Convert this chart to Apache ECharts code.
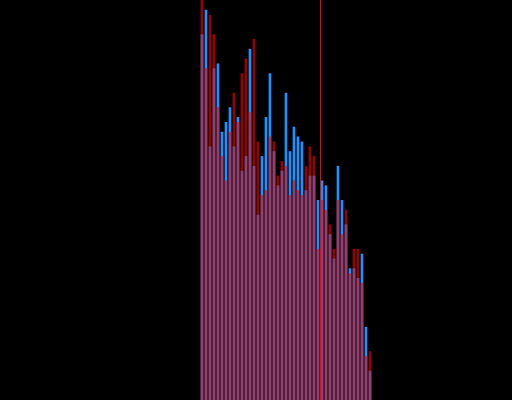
<!DOCTYPE html>
<html>
<head>
<meta charset="utf-8">
<script src="https://cdn.jsdelivr.net/npm/echarts@6/dist/echarts.min.js"></script>
<style>
html,body{margin:0;padding:0;background:#000;}
#chart{width:512px;height:400px;}
</style>
</head>
<body>
<div id="chart"></div>
<script>
const categories = Array.from({length: 43}, (_, i) => String(i + 1));
const blueValues = [75,80,52,68,69,55,57,60,52,58,47,50,72,48,38,50,58,67,51,44,47,63,51,56,54,53,43,46,46,41,45,44,34,29,48,41,36,27,27,25,30,15,6];
const redValues  = [82,68,79,75,60,50,45,55,63,57,67,70,59,74,53,42,43,54,53,46,49,48,42,45,43,42,48,52,50,31,41,39,36,31,41,34,39,26,31,31,24,9,10];
const markerAt = 30;
const yMax = 82;

const chart = echarts.init(document.getElementById('chart'), null, {renderer: 'canvas'});
chart.setOption({
  backgroundColor: '#000',
  animation: false,
  grid: {left: 200, width: 172, top: 0, bottom: 0},
  xAxis: [
    {type: 'category', data: categories, show: false, boundaryGap: true},
    {type: 'value', min: 0, max: categories.length, show: false}
  ],
  yAxis: {type: 'value', min: 0, max: yMax, show: false},
  series: [
    {type: 'bar', data: blueValues, barWidth: '67%', barGap: '-100%', itemStyle: {color: '#1E90FF'}},
    {type: 'bar', data: redValues, barWidth: '67%', barGap: '-100%', itemStyle: {color: 'rgba(255,0,0,0.6)'}},
    {type: 'line', xAxisIndex: 1, data: [], symbol: 'none',
     markLine: {silent: true, symbol: 'none', label: {show: false},
       lineStyle: {color: '#FF0000', width: 1, type: 'solid'},
       data: [{xAxis: markerAt}]}}
  ]
});
</script>
</body>
</html>
